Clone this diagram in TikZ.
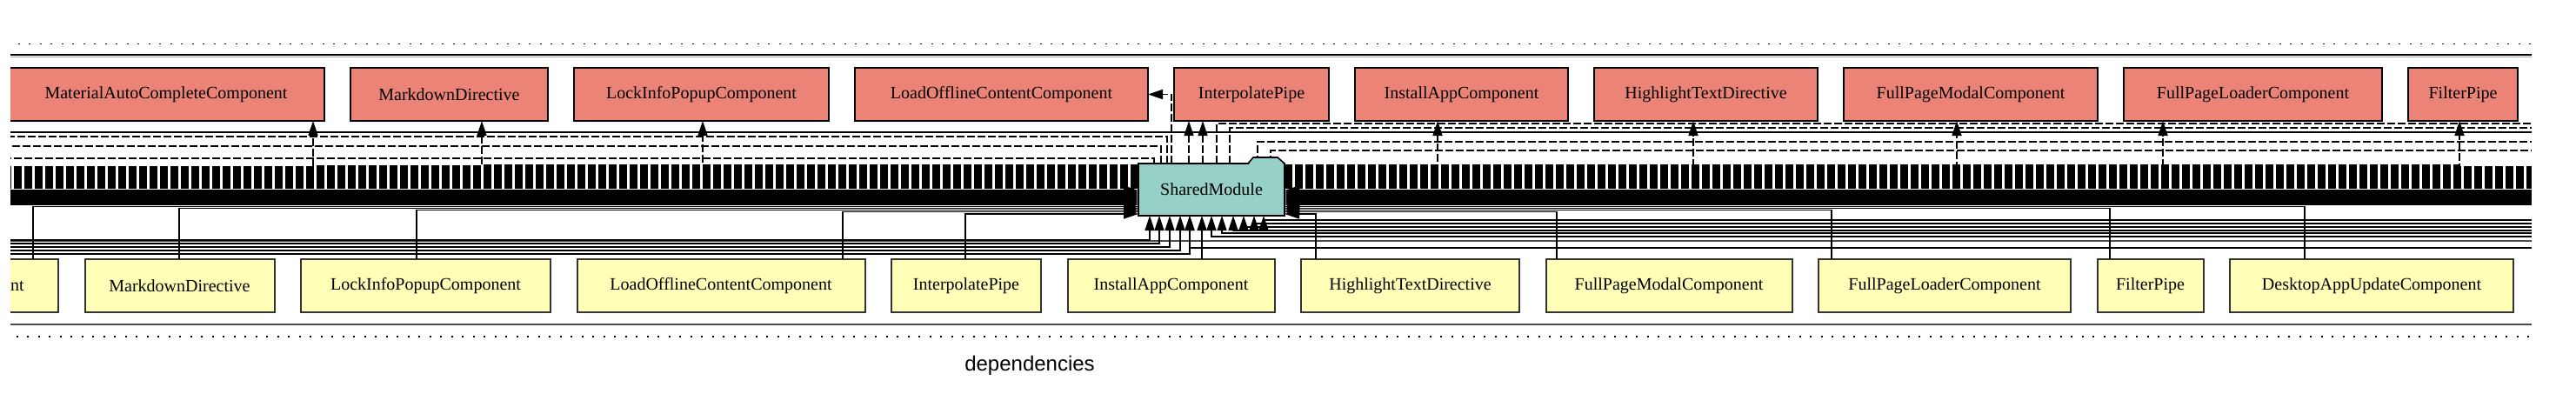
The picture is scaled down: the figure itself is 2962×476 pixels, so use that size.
\documentclass[tikz,border=0pt]{standalone}
\usepackage{fontspec}
\setmainfont{Liberation Serif}
\newfontfamily\labelfont{Liberation Sans}
\usepackage{tikz}
\usetikzlibrary{positioning}
\usetikzlibrary{arrows.meta}
\usetikzlibrary{calc}
\definecolor{exportred}{HTML}{EB8477}
\definecolor{declyellow}{HTML}{FFFFB8}
\definecolor{moduleteal}{HTML}{96D0C6}

\begin{document}
\begin{tikzpicture}[
            x = 1pt, y = -1pt, % pixel grid, y down
            > = {Triangle[length=17pt,width=11pt]}, % arrow head style
            line width = 1.6pt,
            font = \fontsize{20}{24}\selectfont
            ]

        \tikzstyle{exportbox}=[draw, fill=exportred, line width=2pt, minimum height=61pt, inner sep=0pt, outer sep=0pt]
        \tikzstyle{declbox}=[draw=black!80, fill=declyellow, line width=2pt, minimum height=61pt, inner sep=0pt, outer sep=0pt]
        \tikzstyle{modulebox}=[draw, fill=moduleteal, minimum width=168pt, minimum height=60pt, inner sep=0pt, outer sep=0pt]
        \tikzstyle{exportedge}=[dash pattern=on 9pt off 3pt]
        \tikzstyle{clusterline}=[line width=2pt]

        \useasboundingbox (0,0) rectangle (2962,476);

  \begin{scope}
        \clip (12,0) rectangle (2911,476);
        \coordinate (leftcut) at (12,0);
        \coordinate (rightcut) at (2911,0);

	% clusters
        \draw[dash pattern=on 2pt off 10.5pt, line width=1.5pt] (-20,50.7) rectangle (2940,387);
        \draw[clusterline] (-20,63.5) rectangle (2940,152);
        \draw[black!35, line width=1pt] (-20,65.8) -- (2940,65.8);
        \draw[clusterline, black!70] (-20,277) rectangle (2940,373);

	% exports
        \node[exportbox, minimum width=364pt] (matacE) at (191,108.5) {MaterialAutoCompleteComponent};
        \node[exportbox, minimum width=227pt, right=30pt of matacE] (markdownE) {MarkdownDirective};
        \node[exportbox, minimum width=293pt, right=30pt of markdownE] (lockE) {LockInfoPopupComponent};
        \node[exportbox, minimum width=337pt, right=30pt of lockE] (loadE) {LoadOfflineContentComponent};
        \node[exportbox, minimum width=178pt, right=30pt of loadE] (interpE) {InterpolatePipe};
        \node[exportbox, minimum width=245pt, right=30pt of interpE] (installE) {InstallAppComponent};
        \node[exportbox, minimum width=257pt, right=30pt of installE] (highlightE) {HighlightTextDirective};
        \node[exportbox, minimum width=292pt, right=30pt of highlightE] (modalE) {FullPageModalComponent};
        \node[exportbox, minimum width=297pt, right=30pt of modalE] (loaderE) {FullPageLoaderComponent};
        \node[exportbox, minimum width=126pt, right=30pt of loaderE] (filterE) {FilterPipe};

	% declarations
        \node[declbox, minimum width=94pt] (cutD) at (20,328.5) {nt};
        \node[declbox, minimum width=218pt, right=30.5pt of cutD] (markdownD) {MarkdownDirective};
        \node[declbox, minimum width=287pt, right=30.5pt of markdownD] (lockD) {LockInfoPopupComponent};
        \node[declbox, minimum width=331pt, right=30.5pt of lockD] (loadD) {LoadOfflineContentComponent};
        \node[declbox, minimum width=172pt, right=30.5pt of loadD] (interpD) {InterpolatePipe};
        \node[declbox, minimum width=238pt, right=30.5pt of interpD] (installD) {InstallAppComponent};
        \node[declbox, minimum width=251pt, right=30.5pt of installD] (highlightD) {HighlightTextDirective};
        \node[declbox, minimum width=283pt, right=30.5pt of highlightD] (modalD) {FullPageModalComponent};
        \node[declbox, minimum width=290pt, right=30.5pt of modalD] (loaderD) {FullPageLoaderComponent};
        \node[declbox, minimum width=122pt, right=30.5pt of loaderD] (filterD) {FilterPipe};
        \node[declbox, minimum width=326pt, right=30.5pt of filterD] (desktopD) {DesktopAppUpdateComponent};

	% module
        \node[modulebox] (shared) at (1393,218) {SharedModule};

	% exported, dashed
        \foreach \y in {192,194,...,217} \draw[exportedge] (shared.west |- 0,\y) -- (leftcut |- 0,\y);
        \foreach \y in {192,194,...,217} \draw[exportedge] (shared.east |- 0,\y) -- (rightcut |- 0,\y);
        \draw[exportedge] (shared.north -| 1342,0) -- (1342,157) -- (leftcut |- 0,157);
        \draw[exportedge] (shared.north -| 1335,0) -- (1335,168) -- (leftcut |- 0,168);
        \draw[exportedge] (shared.north -| 1327,0) -- (1327,182) -- (leftcut |- 0,182);
        \draw[exportedge] (shared.north -| 1399,0) -- (1399,142) -- (rightcut |- 0,142);
        \draw[exportedge] (shared.north -| 1414,0) -- (1414,147) -- (rightcut |- 0,147);
        \draw[exportedge] (shared.north -| 1446,0) -- (1446,163) -- (rightcut |- 0,163);
        \draw[exportedge] (shared.north -| 1461,0) -- (1461,173) -- (rightcut |- 0,173);

        \draw[exportedge,->] (shared.west |- 0,191) -- (360,191) -- (matacE.south -| 360,0);
        \draw[exportedge,->] (shared.west |- 0,190) -- (554,190) -- (markdownE.south -| 554,0);
        \draw[exportedge,->] (shared.west |- 0,190) -- (808,190) -- (lockE.south -| 808,0);
        \draw[exportedge,->] (shared.north -| 1347,0) -- (1347,108.5) -- (loadE.east);
        \draw[exportedge,->] (shared.north -| 1367,0) -- (interpE.south -| 1367,0);
        \draw[exportedge,->] (shared.north -| 1383,0) -- (interpE.south -| 1383,0);
        \draw[exportedge,->] (shared.east |- 0,190) -- (1653,190) -- (installE.south -| 1653,0);
        \draw[exportedge,->] (shared.east |- 0,190) -- (1947,190) -- (highlightE.south -| 1947,0);
        \draw[exportedge,->] (shared.east |- 0,190) -- (2250,190) -- (modalE.south -| 2250,0);
        \draw[exportedge,->] (shared.east |- 0,190) -- (2487,190) -- (loaderE.south -| 2487,0);
        \draw[exportedge,->] (shared.east |- 0,190) -- (2828,190) -- (filterE.south -| 2828,0);

	% declared, solid
        \foreach \y in {219,221,...,236} \draw[->] (leftcut |- 0,\y) -- (shared.west |- 0,\y);
        \foreach \y in {219,221,...,236} \draw[->] (rightcut |- 0,\y) -- (shared.east |- 0,\y);
        \draw[->] (cutD.north -| 38,0) -- (38,237.5) -- (shared.west |- 0,237.5);
        \draw[->] (markdownD.north -| 206,0) -- (206,239.5) -- (shared.west |- 0,239.5);
        \draw[->] (lockD.north -| 479,0) -- (479,241.5) -- (shared.west |- 0,241.5);
        \draw[->] (loadD.north -| 969,0) -- (969,243.5) -- (shared.west |- 0,243.5);
        \draw[->] (interpD.north -| 1110,0) -- (1110,246) -- (shared.west |- 0,246);
        \draw[->] (highlightD.north -| 1513,0) -- (1513,246) -- (shared.east |- 0,246);
        \draw[->] (modalD.north -| 1790,0) -- (1790,243.5) -- (shared.east |- 0,243.5);
        \draw[->] (loaderD.north -| 2106,0) -- (2106,241.5) -- (shared.east |- 0,241.5);
        \draw[->] (filterD.north -| 2426,0) -- (2426,239.5) -- (shared.east |- 0,239.5);
        \draw[->] (desktopD.north -| 2650,0) -- (2650,237.5) -- (shared.east |- 0,237.5);

        \foreach \x/\y in {1322/276,1333/280,1345/284,1357/288,1368/292}
            \draw[->] (leftcut |- 0,\y) -- (\x,\y) -- (shared.south -| \x,0);
        \foreach \x/\y in {1368/285,1393/272,1405/268,1418/265,1430/261,1442/257,1453/253}
            \draw[->] (rightcut |- 0,\y) -- (\x,\y) -- (shared.south -| \x,0);
        \draw[->] (installD.north -| 1382,0) -- (shared.south -| 1382,0);

	% folder tab
        \coordinate (tabL) at ($(shared.north east)+(-42,0)$);
        \fill[moduleteal] ($(tabL)+(1,1)$) -- ++(5,-8) -- ++(28,0) -- ++(7,8) -- cycle;
        \draw (tabL) -- ++(6,-7) -- ++(28,0) -- (shared.north east);
  \end{scope}

        \node[font=\labelfont\fontsize{24}{28}\selectfont] (deplabel) at (1184,420) {dependencies};

\end{tikzpicture}
\end{document}
